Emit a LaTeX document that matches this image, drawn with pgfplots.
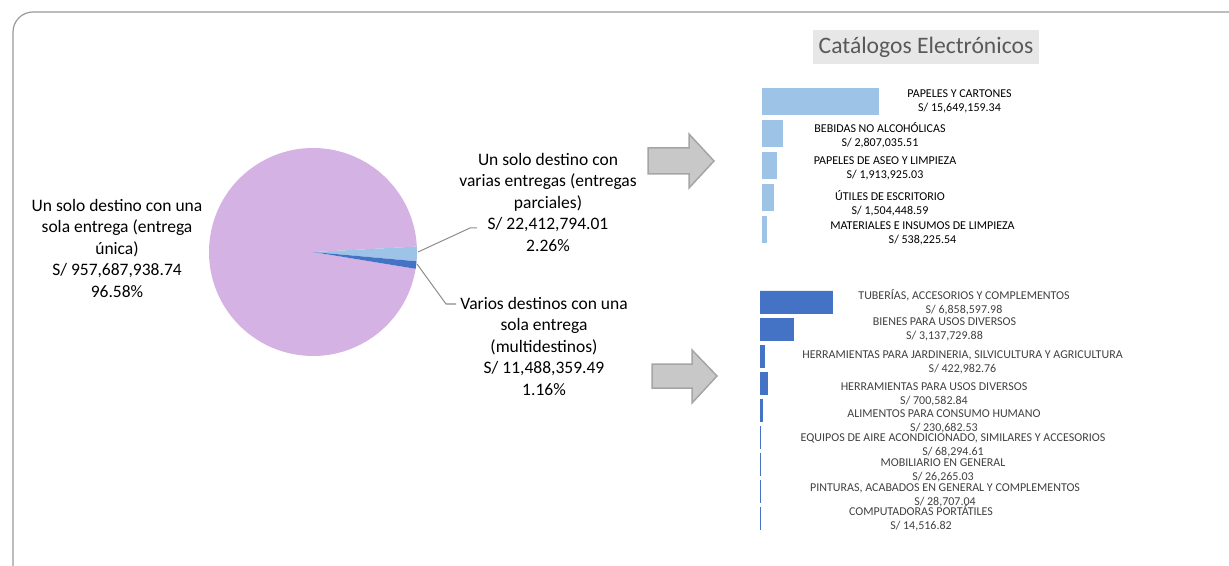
\documentclass[border=0pt]{standalone}
\usepackage{pgfplots}
\pgfplotsset{compat=1.18}
\usepackage{pgfplotstable}
\usepackage{fontspec}
\setmainfont{Carlito}
\definecolor{lblue}{RGB}{157,195,230}
\definecolor{dblue}{RGB}{68,114,196}
\definecolor{piepurple}{RGB}{212,178,228}
\definecolor{arrowfill}{RGB}{200,200,200}
\definecolor{arrowdraw}{RGB}{165,165,165}
\definecolor{titlebox}{RGB}{231,231,231}
\definecolor{titletext}{RGB}{89,89,89}
\definecolor{lbltext}{RGB}{64,64,64}

% Catalog data (top: partial deliveries, bottom: multidestination)
\pgfplotstableread{
y val
0 15649159.34
1 2807035.51
2 1913925.03
3 1504448.59
4 538225.54
}\toptable
\pgfplotstableread{
y val
0 6858597.98
1 3137729.88
2 422982.76
3 700582.84
4 230682.53
5 68294.61
6 26265.03
7 28707.04
8 14516.82
}\bottable

\begin{document}
\begin{tikzpicture}[x=0.5pt,y=-0.5pt]
\path[use as bounding box] (0,0) rectangle (1229,566);
% frame
\draw[black!40, line width=0.6pt, rounded corners=10pt] (13,12) rectangle (1260,590);

% ---------- pie (values in millions) ----------
\pgfmathsetmacro{\vA}{957.68793874}
\pgfmathsetmacro{\vB}{22.41279401}
\pgfmathsetmacro{\vC}{11.48835949}
\pgfmathsetmacro{\tot}{\vA+\vB+\vC}
\pgfmathsetmacro{\sB}{3}
\pgfmathsetmacro{\eB}{\sB-(\vB/\tot)*360}
\pgfmathsetmacro{\eC}{\eB-(\vC/\tot)*360}
\pgfmathsetmacro{\eA}{\eC-(\vA/\tot)*360}
\begin{axis}[at={(156.5pt,-126pt)}, anchor=center, scale only axis,
  width=110pt, height=110pt, xmin=-110, xmax=110, ymin=-110, ymax=110,
  hide axis, clip=false]
  \fill[piepurple] (axis cs:0,0) -- ++(\eC:52pt) arc[start angle=\eC, end angle=\eA, radius=52pt] -- cycle;
  \fill[lblue] (axis cs:0,0) -- ++(\sB:52pt) arc[start angle=\sB, end angle=\eB, radius=52pt] -- cycle;
  \fill[dblue] (axis cs:0,0) -- ++(\eB:52pt) arc[start angle=\eB, end angle=\eC, radius=52pt] -- cycle;
\end{axis}

% leader lines
\draw[black!45, line width=0.5pt] (418,252) -- (470,228) -- (477,228);
\draw[black!45, line width=0.5pt] (417,264) -- (446,304) -- (456,304);

% pie labels
\begin{scope}[every node/.style={align=center, inner sep=0pt, font=\fontsize{8.75pt}{10.75pt}\selectfont}]
\node at (117,248) {Un solo destino con una\\sola entrega (entrega\\única)\\S/ 957,687,938.74\\96.58\%};
\node at (548,202) {Un solo destino con\\varias entregas (entregas\\parciales)\\S/ 22,412,794.01\\2.26\%};
\node at (544,346) {Varios destinos con una\\sola entrega\\(multidestinos)\\S/ 11,488,359.49\\1.16\%};
\end{scope}

% arrows
\filldraw[fill=arrowfill, draw=arrowdraw, line width=0.75pt]
  (648,148) -- (689,148) -- (689,134) -- (714,161) -- (689,188) -- (689,174) -- (648,174) -- cycle;
\filldraw[fill=arrowfill, draw=arrowdraw, line width=0.75pt]
  (652,364) -- (692,364) -- (692,350) -- (717,376) -- (692,403) -- (692,388) -- (652,388) -- cycle;

% title
\node[fill=titlebox, minimum width=113pt, minimum height=17pt, inner sep=0pt,
  text=titletext, font=\fontsize{11.8pt}{14pt}\selectfont] at (926,47) {Catálogos Electrónicos};

% ---------- top bar chart ----------
\begin{axis}[at={(381pt,-42.75pt)}, anchor=north west, scale only axis,
  width=59.3pt, height=80pt, xmin=0, xmax=16000000, ymin=-0.5, ymax=4.5,
  y dir=reverse, hide axis, xbar, bar width=13pt, bar shift=0pt, clip=false]
  \addplot[fill=lblue, draw=lblue, line width=0.4pt] table[x=val, y=y] {\toptable};
\end{axis}

% ---------- bottom bar chart ----------
\begin{axis}[at={(380pt,-144.2pt)}, anchor=north west, scale only axis,
  width=37.1pt, height=122pt, xmin=0, xmax=7000000, ymin=-0.5, ymax=8.5,
  y dir=reverse, hide axis, xbar, bar width=11pt, bar shift=0pt, clip=false]
  \addplot[fill=dblue, draw=dblue, line width=0.4pt] table[x=val, y=y] {\bottable};
\end{axis}

% bar labels
\begin{scope}[every node/.style={align=center, inner sep=0pt, font=\fontsize{6pt}{7pt}\selectfont}]
\node at (959.5,101.2) {PAPELES Y CARTONES\\S/ 15,649,159.34};
\node at (880,135.3) {BEBIDAS NO ALCOHÓLICAS\\S/ 2,807,035.51};
\node at (885,168.7) {PAPELES DE ASEO Y LIMPIEZA\\S/ 1,913,925.03};
\node at (890,202.8) {ÚTILES DE ESCRITORIO\\S/ 1,504,448.59};
\node at (922.5,233) {MATERIALES E INSUMOS DE LIMPIEZA\\S/ 538,225.54};
\end{scope}
\begin{scope}[every node/.style={align=center, inner sep=0pt, text=lbltext, font=\fontsize{6pt}{7pt}\selectfont}]
\node at (964,302) {TUBERÍAS, ACCESORIOS Y COMPLEMENTOS\\S/ 6,858,597.98};
\node at (944.5,329) {BIENES PARA USOS DIVERSOS\\S/ 3,137,729.88};
\node at (962.5,362) {HERRAMIENTAS PARA JARDINERIA, SILVICULTURA Y AGRICULTURA\\S/ 422,982.76};
\node at (934,394) {HERRAMIENTAS PARA USOS DIVERSOS\\S/ 700,582.84};
\node at (944,421.7) {ALIMENTOS PARA CONSUMO HUMANO\\S/ 230,682.53};
\node at (953,445.3) {EQUIPOS DE AIRE ACONDICIONADO, SIMILARES Y ACCESORIOS\\S/ 68,294.61};
\node at (943,470.3) {MOBILIARIO EN GENERAL\\S/ 26,265.03};
\node at (945,495) {PINTURAS, ACABADOS EN GENERAL Y COMPLEMENTOS\\S/ 28,707.04};
\node at (921,517.8) {COMPUTADORAS PORTÁTILES\\S/ 14,516.82};
\end{scope}
\end{tikzpicture}
\end{document}
